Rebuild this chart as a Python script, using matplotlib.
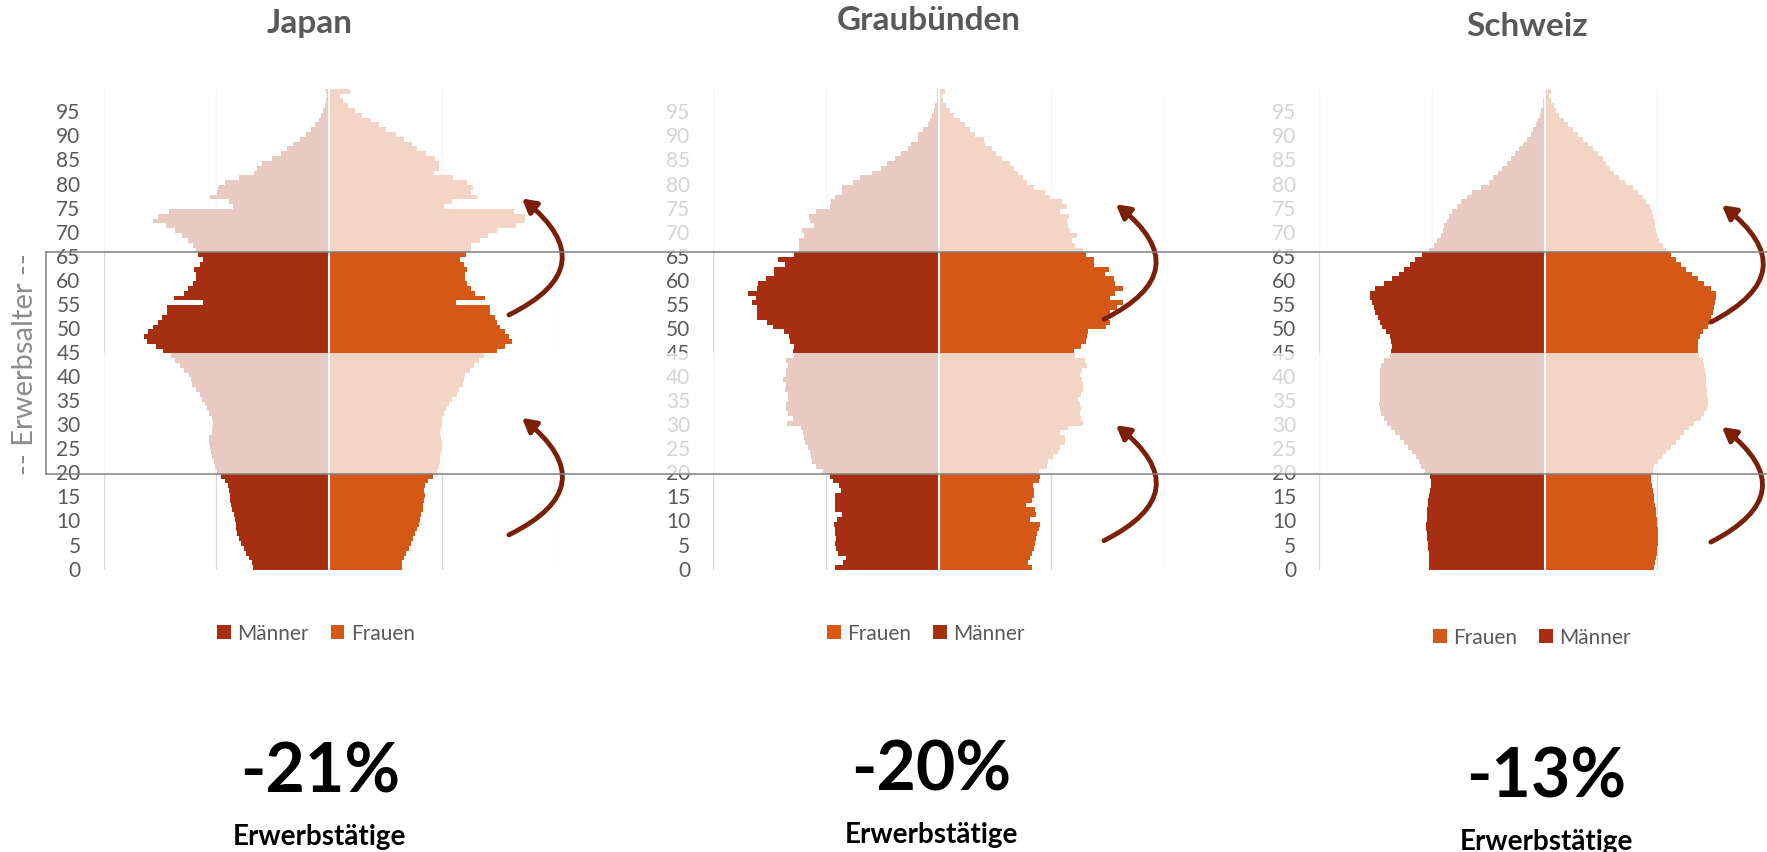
import numpy as np
import matplotlib
matplotlib.use('Agg')
from matplotlib import pyplot as plt
from matplotlib import transforms
from matplotlib.patches import Rectangle, Patch, FancyArrowPatch
from matplotlib.lines import Line2D

plt.rcParams['font.family'] = ['Lato', 'DejaVu Sans']

# Anteil an der Gesamtbevölkerung in %, je Altersjahr 0..99
ages = np.arange(100)

japan_m = [0.337, 0.340, 0.355, 0.369, 0.378, 0.389, 0.399, 0.407, 0.411, 0.414,
           0.418, 0.423, 0.429, 0.433, 0.438, 0.441, 0.444, 0.448, 0.463, 0.481,
           0.497, 0.505, 0.512, 0.518, 0.522, 0.526, 0.530, 0.530, 0.521, 0.518,
           0.515, 0.518, 0.530, 0.542, 0.552, 0.562, 0.574, 0.592, 0.607, 0.611,
           0.619, 0.641, 0.660, 0.681, 0.700, 0.734, 0.767, 0.809, 0.819, 0.804,
           0.782, 0.757, 0.741, 0.720, 0.720, 0.559, 0.687, 0.644, 0.626, 0.604,
           0.589, 0.589, 0.599, 0.570, 0.559, 0.582, 0.592, 0.601, 0.625, 0.650,
           0.681, 0.721, 0.779, 0.757, 0.708, 0.426, 0.444, 0.527, 0.496, 0.494,
           0.463, 0.401, 0.331, 0.318, 0.295, 0.251, 0.214, 0.187, 0.159, 0.129,
           0.102, 0.082, 0.061, 0.046, 0.037, 0.025, 0.018, 0.012, 0.009, 0.012]
japan_f = [0.323, 0.323, 0.331, 0.343, 0.353, 0.364, 0.372, 0.383, 0.390, 0.398,
           0.402, 0.409, 0.415, 0.417, 0.420, 0.424, 0.420, 0.424, 0.438, 0.460,
           0.479, 0.487, 0.491, 0.494, 0.497, 0.500, 0.500, 0.497, 0.494, 0.497,
           0.499, 0.501, 0.509, 0.521, 0.534, 0.546, 0.568, 0.576, 0.595, 0.598,
           0.605, 0.625, 0.642, 0.665, 0.687, 0.746, 0.780, 0.810, 0.800, 0.780,
           0.758, 0.746, 0.735, 0.714, 0.714, 0.562, 0.690, 0.647, 0.628, 0.613,
           0.601, 0.601, 0.613, 0.598, 0.583, 0.608, 0.628, 0.628, 0.668, 0.706,
           0.746, 0.830, 0.870, 0.870, 0.820, 0.509, 0.546, 0.657, 0.628, 0.640,
           0.613, 0.549, 0.464, 0.490, 0.487, 0.469, 0.432, 0.390, 0.369, 0.331,
           0.298, 0.254, 0.221, 0.187, 0.145, 0.116, 0.086, 0.064, 0.049, 0.093]

graub_m = [0.459, 0.425, 0.410, 0.447, 0.455, 0.462, 0.455, 0.462, 0.462, 0.465,
           0.450, 0.430, 0.459, 0.462, 0.462, 0.459, 0.433, 0.440, 0.470, 0.484,
           0.514, 0.544, 0.563, 0.566, 0.569, 0.581, 0.593, 0.599, 0.603, 0.610,
           0.673, 0.647, 0.670, 0.677, 0.677, 0.670, 0.670, 0.681, 0.677, 0.692,
           0.677, 0.677, 0.670, 0.677, 0.640, 0.647, 0.643, 0.660, 0.663, 0.686,
           0.737, 0.761, 0.807, 0.807, 0.806, 0.826, 0.808, 0.846, 0.805, 0.802,
           0.765, 0.730, 0.730, 0.681, 0.712, 0.640, 0.618, 0.618, 0.618, 0.599,
           0.607, 0.554, 0.570, 0.573, 0.545, 0.483, 0.476, 0.460, 0.430, 0.430,
           0.379, 0.347, 0.295, 0.258, 0.228, 0.196, 0.169, 0.136, 0.124, 0.092,
           0.092, 0.068, 0.047, 0.040, 0.028, 0.021, 0.015, 0.009, 0.006, 0.006]
graub_f = [0.412, 0.394, 0.404, 0.415, 0.424, 0.427, 0.433, 0.438, 0.444, 0.449,
           0.404, 0.430, 0.427, 0.387, 0.412, 0.424, 0.424, 0.419, 0.444, 0.449,
           0.444, 0.479, 0.486, 0.508, 0.530, 0.538, 0.560, 0.560, 0.538, 0.572,
           0.641, 0.632, 0.627, 0.632, 0.627, 0.616, 0.632, 0.641, 0.641, 0.634,
           0.627, 0.637, 0.656, 0.649, 0.604, 0.601, 0.631, 0.655, 0.658, 0.664,
           0.740, 0.760, 0.740, 0.760, 0.790, 0.817, 0.760, 0.784, 0.817, 0.780,
           0.776, 0.738, 0.755, 0.690, 0.690, 0.655, 0.641, 0.604, 0.590, 0.612,
           0.582, 0.575, 0.567, 0.578, 0.538, 0.570, 0.545, 0.493, 0.471, 0.424,
           0.390, 0.376, 0.353, 0.335, 0.316, 0.279, 0.256, 0.236, 0.207, 0.201,
           0.161, 0.138, 0.116, 0.093, 0.068, 0.049, 0.034, 0.019, 0.016, 0.027]

schweiz_m = [0.514, 0.511, 0.511, 0.514, 0.516, 0.519, 0.521, 0.524, 0.527, 0.527,
             0.524, 0.524, 0.521, 0.519, 0.516, 0.514, 0.510, 0.504, 0.504, 0.507,
             0.529, 0.548, 0.559, 0.569, 0.588, 0.607, 0.625, 0.640, 0.662, 0.681,
             0.699, 0.714, 0.726, 0.729, 0.736, 0.732, 0.729, 0.729, 0.729, 0.729,
             0.732, 0.729, 0.726, 0.714, 0.687, 0.680, 0.676, 0.683, 0.687, 0.702,
             0.721, 0.732, 0.741, 0.751, 0.759, 0.766, 0.773, 0.776, 0.751, 0.714,
             0.677, 0.647, 0.625, 0.599, 0.573, 0.544, 0.514, 0.492, 0.477, 0.462,
             0.450, 0.445, 0.433, 0.425, 0.410, 0.391, 0.370, 0.344, 0.321, 0.284,
             0.247, 0.228, 0.207, 0.188, 0.169, 0.151, 0.133, 0.113, 0.095, 0.080,
             0.062, 0.050, 0.040, 0.028, 0.021, 0.015, 0.009, 0.006, 0.003, 0.003]
schweiz_f = [0.483, 0.489, 0.493, 0.496, 0.498, 0.501, 0.504, 0.504, 0.501, 0.498,
             0.496, 0.493, 0.493, 0.489, 0.486, 0.483, 0.479, 0.474, 0.471, 0.471,
             0.479, 0.486, 0.501, 0.519, 0.538, 0.560, 0.582, 0.601, 0.619, 0.641,
             0.661, 0.693, 0.708, 0.719, 0.723, 0.723, 0.720, 0.718, 0.716, 0.716,
             0.716, 0.711, 0.708, 0.700, 0.686, 0.680, 0.678, 0.680, 0.690, 0.700,
             0.723, 0.730, 0.738, 0.745, 0.750, 0.753, 0.760, 0.760, 0.738, 0.705,
             0.679, 0.652, 0.627, 0.604, 0.582, 0.560, 0.539, 0.524, 0.507, 0.499,
             0.493, 0.490, 0.487, 0.482, 0.476, 0.465, 0.450, 0.436, 0.413, 0.390,
             0.356, 0.330, 0.308, 0.290, 0.271, 0.258, 0.237, 0.213, 0.193, 0.172,
             0.148, 0.127, 0.105, 0.086, 0.065, 0.052, 0.041, 0.027, 0.019, 0.030]

titles = ['Japan', 'Graubünden', 'Schweiz']
changes = ['-21%', '-20%', '-13%']
subtitle = 'Erwerbstätige'
legend_order = [['Männer', 'Frauen'], ['Frauen', 'Männer'], ['Frauen', 'Männer']]
tick_ages = list(range(0, 100, 5))
grid_x = [-1, -0.5, 0.5, 1]

# Farben
MANN = '#a52f10'
FRAU = '#d55817'
GRAU = '#595959'
PFEIL = '#7b2008'
farben = {'Männer': MANN, 'Frauen': FRAU}

W, H = 1767, 853
fig = plt.figure(figsize=(W / 100, H / 100), dpi=100)

# Layout in Pixel
centers = [329, 938.7, 1544.7]
half = 225.5
top_px, bot_px = 89.7, 571
title_xy = [(310, 24), (929, 21), (1527, 26)]
legend_xy = [(316, 634), (926, 634), (1532, 638)]
pct_xy = [(320, 773), (931, 771), (1546, 778)]
sub_xy = [(319, 837), (931, 835), (1546, 842)]
arrows = [[(0.798, 52.5, 0.856, 76.7), (0.798, 6.8, 0.856, 31.1)],
          [(0.733, 51.6, 0.786, 75.5), (0.733, 5.6, 0.786, 29.6)],
          [(0.737, 51.0, 0.786, 75.3), (0.737, 5.3, 0.786, 29.2)]]

daten = [(japan_m, japan_f), (graub_m, graub_f), (schweiz_m, schweiz_f)]
axes = []

for i, (m, f) in enumerate(daten):
    c = centers[i]
    ax = fig.add_axes([(c - half) / W, 1 - bot_px / H, 2 * half / W, (bot_px - top_px) / H])
    axes.append(ax)
    ax.barh(ages, -np.array(m), height=1.0, color=MANN, linewidth=0, antialiased=False, zorder=2)
    ax.barh(ages, f, height=1.0, color=FRAU, linewidth=0, antialiased=False, zorder=2)
    ax.axvline(0, color='white', lw=1.5, zorder=3)
    ax.set_xlim(-1, 1)
    ax.set_ylim(-0.5, 99.5)
    ax.set_xticks(grid_x)
    ax.set_xticklabels([])
    ax.tick_params(axis='x', length=0)
    ax.grid(axis='x', color='#d9d9d9', lw=1.0, zorder=0)
    ax.set_axisbelow(True)
    ax.set_yticks(tick_ages)
    ax.set_yticklabels([str(a) for a in tick_ages])
    ax.tick_params(axis='y', length=0, pad=16.5, labelsize=15, labelcolor=GRAU)
    for s in ax.spines.values():
        s.set_visible(False)
    ax.patch.set_alpha(0)

    # helle Überdeckung ausserhalb der betrachteten Altersgruppen
    tr = transforms.blended_transform_factory(ax.transAxes, ax.transData)
    x0 = 0 if i == 0 else -0.2
    for y0, y1 in [(19.5, 44.5), (65.5, 99.5)]:
        ax.add_patch(Rectangle((x0, y0), 1 - x0, y1 - y0, transform=tr, facecolor='white',
                               edgecolor='none', alpha=0.75, zorder=4, clip_on=False))

    for (xa, ya, xb, yb) in arrows[i]:
        ax.add_patch(FancyArrowPatch((xa, ya), (xb, yb), connectionstyle='arc3,rad=0.78',
                                     arrowstyle='-|>,head_length=8,head_width=4.5',
                                     mutation_scale=1, lw=3.5, color=PFEIL,
                                     shrinkA=0, shrinkB=0, zorder=6, clip_on=False))

    handles = [Patch(facecolor=farben[n], edgecolor='none') for n in legend_order[i]]
    lx, ly = legend_xy[i]
    ax.legend(handles, legend_order[i], loc='center', bbox_to_anchor=(lx / W, 1 - ly / H),
              bbox_transform=fig.transFigure, ncol=2, frameon=False, fontsize=15,
              labelcolor=GRAU, handlelength=0.64, handleheight=0.64, handletextpad=0.32,
              columnspacing=1.05, borderpad=0)

    tx, ty = title_xy[i]
    fig.text(tx / W, 1 - ty / H, titles[i], ha='center', va='center', fontsize=24,
             fontweight='bold', color=GRAU)
    px, py = pct_xy[i]
    fig.text(px / W, 1 - py / H, changes[i], ha='center', va='center', fontsize=49,
             fontweight='bold', color='black')
    sx, sy = sub_xy[i]
    fig.text(sx / W, 1 - sy / H, subtitle, ha='center', va='center', fontsize=20,
             fontweight='bold', color='black')

# Linien für das Erwerbsalter über alle Pyramiden
tr0 = transforms.blended_transform_factory(fig.transFigure, axes[0].transData)
x_br = 46 / W
for y in [19.5, 65.5]:
    fig.add_artist(Line2D([x_br, 1], [y, y], transform=tr0, color='#808080', lw=1.1, zorder=5))
fig.add_artist(Line2D([x_br, x_br], [19.5, 65.5], transform=tr0, color='#808080', lw=1.1, zorder=5))
fig.text(25 / W, 1 - 364.5 / H, '-- Erwerbsalter --', rotation=90, ha='center', va='center',
         fontsize=21, color='#8c8c8c')

fig.savefig('out.png', dpi=100, facecolor='white')
